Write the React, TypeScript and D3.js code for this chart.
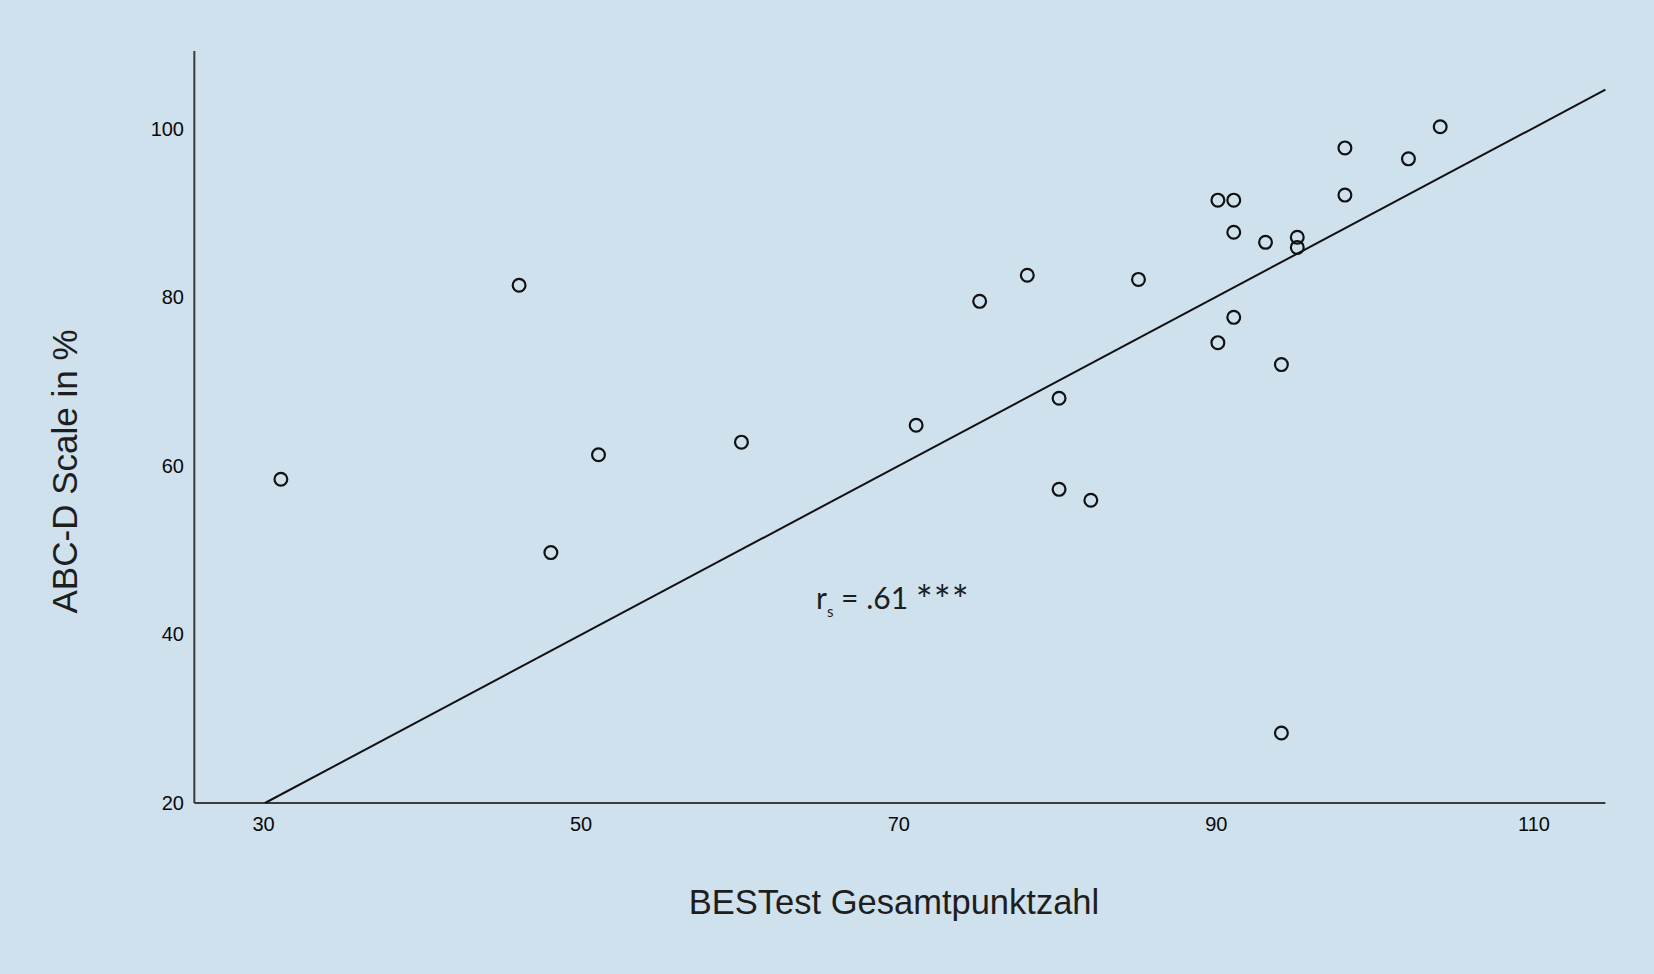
import React from "react";
import * as d3 from "d3";

const bestScores = [31, 46, 48, 51, 60, 71, 75, 78, 80, 80, 82, 85, 90, 91, 91, 93, 95, 95, 90, 91, 94, 94, 98, 98, 102, 104];
const abcScores = [58.4, 81.4, 49.7, 61.3, 62.8, 64.8, 79.5, 82.6, 68.0, 57.2, 55.9, 82.1, 91.5, 91.5, 87.7, 86.5, 87.1, 85.9, 74.6, 77.6, 72.0, 28.3, 97.7, 92.1, 96.4, 100.2];
const fitX = [30, 114.4];
const fitY = [20, 104.6];
const xTicks = [30, 50, 70, 90, 110];
const yTicks = [20, 40, 60, 80, 100];
const xTitle = "BESTest Gesamtpunktzahl";
const yTitle = "ABC-D Scale in %";

const W = 1654;
const H = 974;

export default function App() {
  const x = d3.scaleLinear().domain([30, 110]).range([265, 1535.5]);
  const y = d3.scaleLinear().domain([20, 100]).range([803, 128.5]);
  const xMin = 25.55;
  const xMax = 114.4;
  const yMax = 109.2;
  const line = d3
    .line<number>()
    .x((_, i) => x(fitX[i]))
    .y((d) => y(d));
  const axisColor = "#3a3a3a";
  const textColor = "#1e1e1e";
  return (
    <div style={{ position: "absolute", left: 0, top: 0 }}>
      <svg width={W} height={H} style={{ display: "block", background: "#cfe1ed" }}>
        <rect x={0} y={0} width={W} height={H} fill="#cfe1ed" />
        {/* axes */}
        <line x1={x(xMin)} x2={x(xMin)} y1={y(yMax)} y2={y(20)} stroke={axisColor} strokeWidth={2} />
        <line x1={x(xMin)} x2={x(xMax)} y1={y(20)} y2={y(20)} stroke={axisColor} strokeWidth={2} />
        {yTicks.map((t) => (
          <text
            key={"y" + t}
            x={184}
            y={y(t) + 7}
            textAnchor="end"
            fontFamily="'Liberation Sans', Arial, sans-serif"
            fontSize={20}
            fill="#0a0a0a"
          >
            {t}
          </text>
        ))}
        {xTicks.map((t) => (
          <text
            key={"x" + t}
            x={x(t) - 1.5}
            y={831}
            textAnchor="middle"
            fontFamily="'Liberation Sans', Arial, sans-serif"
            fontSize={20}
            fill="#0a0a0a"
          >
            {t}
          </text>
        ))}
        {/* fit line */}
        <path d={line(fitY) || ""} fill="none" stroke="#111" strokeWidth={2} />
        {/* points */}
        {bestScores.map((b, i) => (
          <circle key={i} cx={x(b)} cy={y(abcScores[i])} r={6.4} fill="none" stroke="#111" strokeWidth={2.2} />
        ))}
        {/* annotation */}
        <text x={816} y={609} fontFamily="Lato, 'Open Sans', sans-serif" fontSize={30} fill={textColor}>
          r
          <tspan fontSize={15} dy={8}>s</tspan>
          <tspan dy={-8}> = .61 </tspan>
          <tspan fontSize={40} dy={6} letterSpacing={1}>***</tspan>
        </text>
        {/* titles */}
        <text
          x={894}
          y={914}
          textAnchor="middle"
          fontFamily="'Liberation Sans', Arial, sans-serif"
          fontSize={34.5}
          fill={textColor}
        >
          {xTitle}
        </text>
        <text
          transform={`translate(77,471.5) rotate(-90)`}
          textAnchor="middle"
          fontFamily="'Liberation Sans', Arial, sans-serif"
          fontSize={35}
          fill={textColor}
        >
          {yTitle}
        </text>
      </svg>
    </div>
  );
}
